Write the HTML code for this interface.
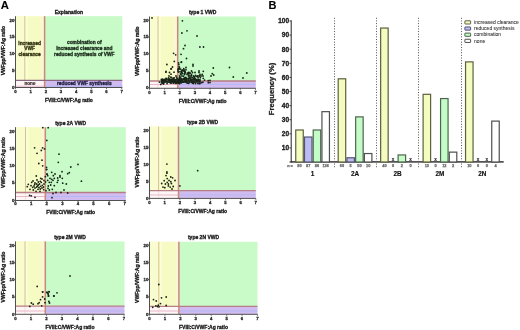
<!DOCTYPE html>
<html><head><meta charset="utf-8"><style>
html,body{margin:0;padding:0;background:#fff;}
svg{display:block;will-change:transform;font-family:"Liberation Sans", sans-serif;}
</style></head><body>
<svg width="520" height="330" viewBox="0 0 520 330">
<rect width="520" height="330" fill="#fff"/>
<text x="0.8" y="8.9" font-size="11.3" text-anchor="start" fill="#000" stroke="#000" stroke-width="0.1" font-weight="bold">A</text>
<rect x="16" y="16.2" width="28.6" height="64.1" fill="#f6fbc4"/>
<rect x="44.6" y="16.2" width="77.7" height="64.1" fill="#c8fbc8"/>
<rect x="16" y="80.3" width="28.6" height="7.2" fill="#fdf5f6"/>
<rect x="44.6" y="80.3" width="77.7" height="7.2" fill="#d0bcf0"/>
<rect x="25.3" y="16.2" width="2.5" height="64.1" fill="#fbfcd8"/>
<rect x="16" y="16.2" width="8.8" height="64.1" fill="#f8fcce"/>
<rect x="41.6" y="16.2" width="2.6" height="64.1" fill="#fcf4dc"/>
<line x1="24.8" y1="16.2" x2="24.8" y2="80.3" stroke="#d6c28e" stroke-width="1"/>
<line x1="24.8" y1="80.3" x2="24.8" y2="87.5" stroke="#d6c28e" stroke-width="1" opacity="0.35"/>
<line x1="16" y1="86.2" x2="44.6" y2="86.2" stroke="#eab0c8" stroke-width="1" opacity="0.9"/>
<line x1="44.6" y1="86.2" x2="122.3" y2="86.2" stroke="#b6b8f4" stroke-width="1.2"/>
<line x1="44.6" y1="16.2" x2="44.6" y2="87.5" stroke="#c98a74" stroke-width="1.5"/>
<line x1="16" y1="80.3" x2="122.3" y2="80.3" stroke="#8a6a80" stroke-width="1.3"/>
<line x1="15.5" y1="16.2" x2="15.5" y2="88" stroke="#505050" stroke-width="1"/>
<line x1="15" y1="87.5" x2="122.3" y2="87.5" stroke="#505050" stroke-width="1"/>
<line x1="15.5" y1="87.5" x2="15.5" y2="89" stroke="#505050" stroke-width="0.8"/>
<text x="15.5" y="92.9" font-size="4.3" text-anchor="middle" fill="#2a2a2a" stroke="#2a2a2a" stroke-width="0.3" font-weight="bold">0</text>
<line x1="30.67" y1="87.5" x2="30.67" y2="89" stroke="#505050" stroke-width="0.8"/>
<text x="30.67" y="92.9" font-size="4.3" text-anchor="middle" fill="#2a2a2a" stroke="#2a2a2a" stroke-width="0.3" font-weight="bold">1</text>
<line x1="45.84" y1="87.5" x2="45.84" y2="89" stroke="#505050" stroke-width="0.8"/>
<text x="45.84" y="92.9" font-size="4.3" text-anchor="middle" fill="#2a2a2a" stroke="#2a2a2a" stroke-width="0.3" font-weight="bold">2</text>
<line x1="61.01" y1="87.5" x2="61.01" y2="89" stroke="#505050" stroke-width="0.8"/>
<text x="61.01" y="92.9" font-size="4.3" text-anchor="middle" fill="#2a2a2a" stroke="#2a2a2a" stroke-width="0.3" font-weight="bold">3</text>
<line x1="76.19" y1="87.5" x2="76.19" y2="89" stroke="#505050" stroke-width="0.8"/>
<text x="76.19" y="92.9" font-size="4.3" text-anchor="middle" fill="#2a2a2a" stroke="#2a2a2a" stroke-width="0.3" font-weight="bold">4</text>
<line x1="91.36" y1="87.5" x2="91.36" y2="89" stroke="#505050" stroke-width="0.8"/>
<text x="91.36" y="92.9" font-size="4.3" text-anchor="middle" fill="#2a2a2a" stroke="#2a2a2a" stroke-width="0.3" font-weight="bold">5</text>
<line x1="106.53" y1="87.5" x2="106.53" y2="89" stroke="#505050" stroke-width="0.8"/>
<text x="106.53" y="92.9" font-size="4.3" text-anchor="middle" fill="#2a2a2a" stroke="#2a2a2a" stroke-width="0.3" font-weight="bold">6</text>
<line x1="121.7" y1="87.5" x2="121.7" y2="89" stroke="#505050" stroke-width="0.8"/>
<text x="121.7" y="92.9" font-size="4.3" text-anchor="middle" fill="#2a2a2a" stroke="#2a2a2a" stroke-width="0.3" font-weight="bold">7</text>
<line x1="14" y1="87" x2="15.5" y2="87" stroke="#505050" stroke-width="0.8"/>
<text x="14.4" y="88.5" font-size="4.3" text-anchor="end" fill="#2a2a2a" stroke="#2a2a2a" stroke-width="0.3" font-weight="bold">0</text>
<line x1="14" y1="70.25" x2="15.5" y2="70.25" stroke="#505050" stroke-width="0.8"/>
<text x="14.4" y="71.75" font-size="4.3" text-anchor="end" fill="#2a2a2a" stroke="#2a2a2a" stroke-width="0.3" font-weight="bold">5</text>
<line x1="14" y1="53.5" x2="15.5" y2="53.5" stroke="#505050" stroke-width="0.8"/>
<text x="14.4" y="55" font-size="4.3" text-anchor="end" fill="#2a2a2a" stroke="#2a2a2a" stroke-width="0.3" font-weight="bold">10</text>
<line x1="14" y1="36.75" x2="15.5" y2="36.75" stroke="#505050" stroke-width="0.8"/>
<text x="14.4" y="38.25" font-size="4.3" text-anchor="end" fill="#2a2a2a" stroke="#2a2a2a" stroke-width="0.3" font-weight="bold">15</text>
<line x1="14" y1="20" x2="15.5" y2="20" stroke="#505050" stroke-width="0.8"/>
<text x="14.4" y="21.5" font-size="4.3" text-anchor="end" fill="#2a2a2a" stroke="#2a2a2a" stroke-width="0.3" font-weight="bold">20</text>
<text x="68.9" y="14" font-size="5" text-anchor="middle" fill="#1a1a1a" stroke="#1a1a1a" stroke-width="0.3" font-weight="bold">Explanation</text>
<text x="68.9" y="101.6" font-size="4.9" text-anchor="middle" fill="#1a1a1a" stroke="#1a1a1a" stroke-width="0.3" font-weight="bold">FVIII:C/VWF:Ag ratio</text>
<text x="0" y="0" font-size="4.93" text-anchor="middle" fill="#1a1a1a" stroke="#1a1a1a" stroke-width="0.3" font-weight="bold" transform="translate(5.4,50.7) rotate(-90)">VWFpp/VWF:Ag ratio</text>
<rect x="150" y="16.5" width="27.7" height="64.5" fill="#f6fbc4"/>
<rect x="177.7" y="16.5" width="78.1" height="64.5" fill="#c8fbc8"/>
<rect x="150" y="81" width="27.7" height="7.3" fill="#fdf5f6"/>
<rect x="177.7" y="81" width="78.1" height="7.3" fill="#d0bcf0"/>
<rect x="158.5" y="16.5" width="2.5" height="64.5" fill="#fbfcd8"/>
<rect x="150" y="16.5" width="8" height="64.5" fill="#f8fcce"/>
<rect x="174.7" y="16.5" width="2.6" height="64.5" fill="#fcf4dc"/>
<line x1="158" y1="16.5" x2="158" y2="81" stroke="#d6c28e" stroke-width="1"/>
<line x1="158" y1="81" x2="158" y2="88.3" stroke="#d6c28e" stroke-width="1" opacity="0.35"/>
<line x1="150" y1="84.5" x2="177.7" y2="84.5" stroke="#eab0c8" stroke-width="1" opacity="0.9"/>
<line x1="177.7" y1="84.5" x2="255.8" y2="84.5" stroke="#b6b8f4" stroke-width="1.2"/>
<line x1="177.7" y1="16.5" x2="177.7" y2="88.3" stroke="#c98a74" stroke-width="1.5"/>
<line x1="150" y1="81" x2="255.8" y2="81" stroke="#b87c84" stroke-width="1.3"/>
<circle cx="152" cy="17.9" r="0.9" fill="#182418"/>
<circle cx="182.4" cy="20.8" r="0.9" fill="#182418"/>
<circle cx="187" cy="30.8" r="0.9" fill="#182418"/>
<circle cx="181.9" cy="33" r="0.9" fill="#182418"/>
<circle cx="197" cy="36" r="0.9" fill="#182418"/>
<circle cx="185" cy="45.5" r="0.9" fill="#182418"/>
<circle cx="183.5" cy="48.7" r="0.9" fill="#182418"/>
<circle cx="199.9" cy="47" r="0.9" fill="#182418"/>
<circle cx="203.5" cy="47" r="0.9" fill="#182418"/>
<circle cx="173.6" cy="53.3" r="0.9" fill="#182418"/>
<circle cx="175.7" cy="54.8" r="0.9" fill="#182418"/>
<circle cx="181" cy="54.3" r="0.9" fill="#182418"/>
<circle cx="174.3" cy="61.4" r="0.9" fill="#182418"/>
<circle cx="178.6" cy="62.8" r="0.9" fill="#182418"/>
<circle cx="181.2" cy="62.3" r="0.9" fill="#182418"/>
<circle cx="178.8" cy="64.5" r="0.9" fill="#182418"/>
<circle cx="166.9" cy="64.5" r="0.9" fill="#182418"/>
<circle cx="172.5" cy="67" r="0.9" fill="#182418"/>
<circle cx="171.3" cy="68.7" r="0.9" fill="#182418"/>
<circle cx="179.5" cy="67.3" r="0.9" fill="#182418"/>
<circle cx="178.4" cy="69" r="0.9" fill="#182418"/>
<circle cx="182.2" cy="70" r="0.9" fill="#182418"/>
<circle cx="166" cy="71.5" r="0.9" fill="#182418"/>
<circle cx="186.5" cy="58.5" r="0.9" fill="#182418"/>
<circle cx="181.5" cy="62" r="0.9" fill="#182418"/>
<circle cx="193" cy="64.5" r="0.9" fill="#182418"/>
<circle cx="193" cy="66" r="0.9" fill="#182418"/>
<circle cx="213.3" cy="68" r="0.9" fill="#182418"/>
<circle cx="186" cy="67.5" r="0.9" fill="#182418"/>
<circle cx="165.9" cy="72.2" r="0.9" fill="#182418"/>
<circle cx="169.5" cy="72.5" r="0.9" fill="#182418"/>
<circle cx="174" cy="72.2" r="0.9" fill="#182418"/>
<circle cx="171" cy="74.2" r="0.9" fill="#182418"/>
<circle cx="169" cy="76" r="0.9" fill="#182418"/>
<circle cx="166" cy="78.5" r="0.9" fill="#182418"/>
<circle cx="176" cy="76" r="0.9" fill="#182418"/>
<circle cx="178.5" cy="72" r="0.9" fill="#182418"/>
<circle cx="171" cy="69" r="0.9" fill="#182418"/>
<circle cx="182" cy="71" r="0.9" fill="#182418"/>
<circle cx="180.5" cy="74" r="0.9" fill="#182418"/>
<circle cx="183.5" cy="76.2" r="0.9" fill="#182418"/>
<circle cx="181.7" cy="78.6" r="0.9" fill="#182418"/>
<circle cx="203.3" cy="71.3" r="0.9" fill="#182418"/>
<circle cx="212.3" cy="73.7" r="0.9" fill="#182418"/>
<circle cx="213.7" cy="75" r="0.9" fill="#182418"/>
<circle cx="211" cy="76" r="0.9" fill="#182418"/>
<circle cx="203.3" cy="78.3" r="0.9" fill="#182418"/>
<circle cx="229.5" cy="67.5" r="0.9" fill="#182418"/>
<circle cx="233.3" cy="77" r="0.9" fill="#182418"/>
<circle cx="243" cy="78" r="0.9" fill="#182418"/>
<circle cx="246.8" cy="73" r="0.9" fill="#182418"/>
<circle cx="159.5" cy="82.2" r="0.9" fill="#182418"/>
<circle cx="160.8" cy="84.4" r="0.9" fill="#182418"/>
<circle cx="163.5" cy="84" r="0.9" fill="#182418"/>
<circle cx="181.6" cy="71" r="0.9" fill="#182418"/>
<circle cx="184" cy="71" r="0.9" fill="#182418"/>
<circle cx="191.5" cy="71" r="0.9" fill="#182418"/>
<circle cx="199" cy="71" r="0.9" fill="#182418"/>
<circle cx="188.5" cy="72.5" r="0.9" fill="#182418"/>
<circle cx="192.5" cy="72.5" r="0.9" fill="#182418"/>
<circle cx="195" cy="72.5" r="0.9" fill="#182418"/>
<circle cx="199" cy="72.5" r="0.9" fill="#182418"/>
<circle cx="181" cy="74.5" r="0.9" fill="#182418"/>
<circle cx="184.5" cy="74.5" r="0.9" fill="#182418"/>
<circle cx="191.5" cy="74.5" r="0.9" fill="#182418"/>
<circle cx="200" cy="74.5" r="0.9" fill="#182418"/>
<circle cx="202.2" cy="74.5" r="0.9" fill="#182418"/>
<circle cx="182" cy="76" r="0.9" fill="#182418"/>
<circle cx="188.5" cy="76" r="0.9" fill="#182418"/>
<circle cx="190" cy="76" r="0.9" fill="#182418"/>
<circle cx="193.5" cy="76" r="0.9" fill="#182418"/>
<circle cx="197.5" cy="76" r="0.9" fill="#182418"/>
<circle cx="199" cy="76" r="0.9" fill="#182418"/>
<circle cx="201" cy="76" r="0.9" fill="#182418"/>
<circle cx="203" cy="76" r="0.9" fill="#182418"/>
<circle cx="181" cy="78.5" r="0.9" fill="#182418"/>
<circle cx="185" cy="78.5" r="0.9" fill="#182418"/>
<circle cx="189" cy="78.5" r="0.9" fill="#182418"/>
<circle cx="195" cy="78.5" r="0.9" fill="#182418"/>
<circle cx="161.36" cy="79.32" r="0.9" fill="#182418"/>
<circle cx="161.62" cy="80.46" r="0.9" fill="#182418"/>
<circle cx="161.53" cy="81.89" r="0.9" fill="#182418"/>
<circle cx="162.61" cy="79.23" r="0.9" fill="#182418"/>
<circle cx="162.55" cy="80.46" r="0.9" fill="#182418"/>
<circle cx="162.27" cy="81.94" r="0.9" fill="#182418"/>
<circle cx="162.3" cy="82.98" r="0.9" fill="#182418"/>
<circle cx="163.8" cy="79.96" r="0.9" fill="#182418"/>
<circle cx="163.76" cy="80.72" r="0.9" fill="#182418"/>
<circle cx="164.08" cy="81.64" r="0.9" fill="#182418"/>
<circle cx="163.53" cy="82.92" r="0.9" fill="#182418"/>
<circle cx="164.49" cy="79.45" r="0.9" fill="#182418"/>
<circle cx="165.05" cy="80.54" r="0.9" fill="#182418"/>
<circle cx="164.87" cy="82.11" r="0.9" fill="#182418"/>
<circle cx="165.94" cy="79.25" r="0.9" fill="#182418"/>
<circle cx="165.55" cy="80.56" r="0.9" fill="#182418"/>
<circle cx="166.04" cy="81.94" r="0.9" fill="#182418"/>
<circle cx="167.07" cy="79.56" r="0.9" fill="#182418"/>
<circle cx="166.84" cy="81.04" r="0.9" fill="#182418"/>
<circle cx="167.16" cy="81.8" r="0.9" fill="#182418"/>
<circle cx="167.02" cy="83.5" r="0.9" fill="#182418"/>
<circle cx="168.28" cy="79.43" r="0.9" fill="#182418"/>
<circle cx="168.48" cy="80.49" r="0.9" fill="#182418"/>
<circle cx="168.03" cy="82.21" r="0.9" fill="#182418"/>
<circle cx="169.19" cy="79.23" r="0.9" fill="#182418"/>
<circle cx="169.33" cy="81.01" r="0.9" fill="#182418"/>
<circle cx="169.26" cy="82.3" r="0.9" fill="#182418"/>
<circle cx="170.46" cy="79.68" r="0.9" fill="#182418"/>
<circle cx="170.36" cy="80.76" r="0.9" fill="#182418"/>
<circle cx="170.57" cy="82.36" r="0.9" fill="#182418"/>
<circle cx="170.43" cy="82.85" r="0.9" fill="#182418"/>
<circle cx="171.56" cy="79.72" r="0.9" fill="#182418"/>
<circle cx="171.79" cy="81.06" r="0.9" fill="#182418"/>
<circle cx="171.23" cy="81.91" r="0.9" fill="#182418"/>
<circle cx="171.02" cy="83.17" r="0.9" fill="#182418"/>
<circle cx="172.23" cy="79.29" r="0.9" fill="#182418"/>
<circle cx="172.15" cy="81.01" r="0.9" fill="#182418"/>
<circle cx="172.2" cy="81.8" r="0.9" fill="#182418"/>
<circle cx="173.9" cy="79.26" r="0.9" fill="#182418"/>
<circle cx="173.56" cy="80.84" r="0.9" fill="#182418"/>
<circle cx="173.91" cy="82.26" r="0.9" fill="#182418"/>
<circle cx="173.42" cy="83.13" r="0.9" fill="#182418"/>
<circle cx="174.59" cy="79.91" r="0.9" fill="#182418"/>
<circle cx="175.07" cy="80.52" r="0.9" fill="#182418"/>
<circle cx="174.44" cy="81.79" r="0.9" fill="#182418"/>
<circle cx="175.79" cy="79.67" r="0.9" fill="#182418"/>
<circle cx="175.61" cy="80.4" r="0.9" fill="#182418"/>
<circle cx="175.74" cy="81.9" r="0.9" fill="#182418"/>
<circle cx="176.16" cy="83.35" r="0.9" fill="#182418"/>
<circle cx="176.91" cy="79.69" r="0.9" fill="#182418"/>
<circle cx="177.04" cy="80.44" r="0.9" fill="#182418"/>
<circle cx="177.22" cy="82.22" r="0.9" fill="#182418"/>
<circle cx="177.14" cy="83.11" r="0.9" fill="#182418"/>
<circle cx="177.92" cy="79.28" r="0.9" fill="#182418"/>
<circle cx="178.11" cy="80.45" r="0.9" fill="#182418"/>
<circle cx="177.65" cy="81.77" r="0.9" fill="#182418"/>
<circle cx="178.97" cy="79.24" r="0.9" fill="#182418"/>
<circle cx="178.7" cy="80.52" r="0.9" fill="#182418"/>
<circle cx="178.78" cy="81.89" r="0.9" fill="#182418"/>
<circle cx="180.5" cy="79.69" r="0.9" fill="#182418"/>
<circle cx="179.92" cy="80.6" r="0.9" fill="#182418"/>
<circle cx="180.08" cy="81.89" r="0.9" fill="#182418"/>
<circle cx="181.58" cy="79.99" r="0.9" fill="#182418"/>
<circle cx="181.27" cy="80.79" r="0.9" fill="#182418"/>
<circle cx="180.97" cy="81.68" r="0.9" fill="#182418"/>
<circle cx="182.21" cy="79.86" r="0.9" fill="#182418"/>
<circle cx="182.13" cy="80.42" r="0.9" fill="#182418"/>
<circle cx="182.76" cy="82.02" r="0.9" fill="#182418"/>
<circle cx="183.53" cy="79.22" r="0.9" fill="#182418"/>
<circle cx="183.52" cy="81.18" r="0.9" fill="#182418"/>
<circle cx="183.79" cy="82.16" r="0.9" fill="#182418"/>
<circle cx="184.49" cy="79.33" r="0.9" fill="#182418"/>
<circle cx="184.82" cy="80.83" r="0.9" fill="#182418"/>
<circle cx="184.82" cy="81.86" r="0.9" fill="#182418"/>
<circle cx="185.95" cy="79.99" r="0.9" fill="#182418"/>
<circle cx="185.98" cy="81.04" r="0.9" fill="#182418"/>
<circle cx="185.95" cy="82.19" r="0.9" fill="#182418"/>
<circle cx="186.81" cy="79.48" r="0.9" fill="#182418"/>
<circle cx="186.42" cy="80.42" r="0.9" fill="#182418"/>
<circle cx="186.62" cy="81.81" r="0.9" fill="#182418"/>
<circle cx="187.17" cy="83.16" r="0.9" fill="#182418"/>
<circle cx="188.25" cy="79.99" r="0.9" fill="#182418"/>
<circle cx="188.26" cy="80.69" r="0.9" fill="#182418"/>
<circle cx="187.68" cy="81.78" r="0.9" fill="#182418"/>
<circle cx="188.76" cy="79.7" r="0.9" fill="#182418"/>
<circle cx="189.32" cy="81.07" r="0.9" fill="#182418"/>
<circle cx="188.98" cy="82.12" r="0.9" fill="#182418"/>
<circle cx="188.67" cy="83.33" r="0.9" fill="#182418"/>
<circle cx="190.43" cy="79.83" r="0.9" fill="#182418"/>
<circle cx="190.3" cy="80.78" r="0.9" fill="#182418"/>
<circle cx="189.84" cy="82.23" r="0.9" fill="#182418"/>
<circle cx="191.44" cy="79.98" r="0.9" fill="#182418"/>
<circle cx="191.12" cy="80.72" r="0.9" fill="#182418"/>
<circle cx="191.56" cy="82.18" r="0.9" fill="#182418"/>
<circle cx="192" cy="79.32" r="0.9" fill="#182418"/>
<circle cx="192.62" cy="81.05" r="0.9" fill="#182418"/>
<circle cx="192.02" cy="82.26" r="0.9" fill="#182418"/>
<circle cx="192.43" cy="83.08" r="0.9" fill="#182418"/>
<circle cx="193.44" cy="79.3" r="0.9" fill="#182418"/>
<circle cx="193.01" cy="81.18" r="0.9" fill="#182418"/>
<circle cx="193.52" cy="82.02" r="0.9" fill="#182418"/>
<circle cx="193.35" cy="83.5" r="0.9" fill="#182418"/>
<circle cx="194.76" cy="79.37" r="0.9" fill="#182418"/>
<circle cx="194.3" cy="80.63" r="0.9" fill="#182418"/>
<circle cx="194.29" cy="82.07" r="0.9" fill="#182418"/>
<circle cx="195.54" cy="79.3" r="0.9" fill="#182418"/>
<circle cx="195.93" cy="80.68" r="0.9" fill="#182418"/>
<circle cx="195.57" cy="82.07" r="0.9" fill="#182418"/>
<circle cx="195.54" cy="83.53" r="0.9" fill="#182418"/>
<circle cx="196.7" cy="79.63" r="0.9" fill="#182418"/>
<circle cx="196.72" cy="80.41" r="0.9" fill="#182418"/>
<circle cx="196.65" cy="81.75" r="0.9" fill="#182418"/>
<circle cx="198.04" cy="79.34" r="0.9" fill="#182418"/>
<circle cx="197.78" cy="80.98" r="0.9" fill="#182418"/>
<circle cx="197.85" cy="81.86" r="0.9" fill="#182418"/>
<circle cx="197.84" cy="83.43" r="0.9" fill="#182418"/>
<circle cx="198.58" cy="79.65" r="0.9" fill="#182418"/>
<circle cx="198.7" cy="80.62" r="0.9" fill="#182418"/>
<circle cx="199.12" cy="82.01" r="0.9" fill="#182418"/>
<circle cx="199.11" cy="83.53" r="0.9" fill="#182418"/>
<circle cx="199.95" cy="79.69" r="0.9" fill="#182418"/>
<circle cx="200" cy="80.81" r="0.9" fill="#182418"/>
<circle cx="200.15" cy="81.96" r="0.9" fill="#182418"/>
<circle cx="199.98" cy="83.55" r="0.9" fill="#182418"/>
<circle cx="201.65" cy="82.64" r="0.9" fill="#182418"/>
<circle cx="202.9" cy="82.14" r="0.9" fill="#182418"/>
<circle cx="204.59" cy="80.07" r="0.9" fill="#182418"/>
<circle cx="208.17" cy="80.66" r="0.9" fill="#182418"/>
<circle cx="208.31" cy="82.67" r="0.9" fill="#182418"/>
<circle cx="209.96" cy="80.4" r="0.9" fill="#182418"/>
<circle cx="209.99" cy="82.53" r="0.9" fill="#182418"/>
<circle cx="173.17" cy="78.08" r="0.9" fill="#182418"/>
<circle cx="184.5" cy="77.85" r="0.9" fill="#182418"/>
<circle cx="174.26" cy="77.8" r="0.9" fill="#182418"/>
<circle cx="191.11" cy="77.05" r="0.9" fill="#182418"/>
<circle cx="185.73" cy="78.1" r="0.9" fill="#182418"/>
<circle cx="168.58" cy="77.83" r="0.9" fill="#182418"/>
<circle cx="187.97" cy="78.28" r="0.9" fill="#182418"/>
<circle cx="170.06" cy="79.46" r="0.9" fill="#182418"/>
<circle cx="193.23" cy="79.43" r="0.9" fill="#182418"/>
<circle cx="171.35" cy="77.66" r="0.9" fill="#182418"/>
<circle cx="169.27" cy="78.95" r="0.9" fill="#182418"/>
<circle cx="176.65" cy="77.32" r="0.9" fill="#182418"/>
<circle cx="181.51" cy="79.28" r="0.9" fill="#182418"/>
<circle cx="194.21" cy="77.65" r="0.9" fill="#182418"/>
<circle cx="172.78" cy="79.3" r="0.9" fill="#182418"/>
<circle cx="186.26" cy="78.75" r="0.9" fill="#182418"/>
<circle cx="170.86" cy="77.14" r="0.9" fill="#182418"/>
<circle cx="190.02" cy="78.06" r="0.9" fill="#182418"/>
<circle cx="179.67" cy="78.24" r="0.9" fill="#182418"/>
<circle cx="192.59" cy="77.72" r="0.9" fill="#182418"/>
<circle cx="179.93" cy="77.26" r="0.9" fill="#182418"/>
<circle cx="179.53" cy="77.31" r="0.9" fill="#182418"/>
<circle cx="188.44" cy="73.51" r="0.9" fill="#182418"/>
<circle cx="190.72" cy="78.47" r="0.9" fill="#182418"/>
<circle cx="184.16" cy="70.09" r="0.9" fill="#182418"/>
<circle cx="190.12" cy="73.25" r="0.9" fill="#182418"/>
<circle cx="180.52" cy="69.05" r="0.9" fill="#182418"/>
<circle cx="179.16" cy="69.04" r="0.9" fill="#182418"/>
<circle cx="185.18" cy="72.21" r="0.9" fill="#182418"/>
<circle cx="195.47" cy="75.35" r="0.9" fill="#182418"/>
<circle cx="189.5" cy="72.57" r="0.9" fill="#182418"/>
<circle cx="185.98" cy="69.76" r="0.9" fill="#182418"/>
<circle cx="183.76" cy="68.75" r="0.9" fill="#182418"/>
<circle cx="194.86" cy="76.57" r="0.9" fill="#182418"/>
<circle cx="182.36" cy="73.2" r="0.9" fill="#182418"/>
<circle cx="199.5" cy="76.03" r="0.9" fill="#182418"/>
<circle cx="196.84" cy="76.43" r="0.9" fill="#182418"/>
<circle cx="189.39" cy="77.7" r="0.9" fill="#182418"/>
<circle cx="187.04" cy="74.59" r="0.9" fill="#182418"/>
<circle cx="193.82" cy="78.9" r="0.9" fill="#182418"/>
<circle cx="185.88" cy="77.41" r="0.9" fill="#182418"/>
<circle cx="194.25" cy="76.93" r="0.9" fill="#182418"/>
<circle cx="187.31" cy="73.25" r="0.9" fill="#182418"/>
<circle cx="179.25" cy="68.18" r="0.9" fill="#182418"/>
<circle cx="179.63" cy="75.82" r="0.9" fill="#182418"/>
<circle cx="183.88" cy="70.34" r="0.9" fill="#182418"/>
<circle cx="179.94" cy="77.08" r="0.9" fill="#182418"/>
<circle cx="198.02" cy="77.69" r="0.9" fill="#182418"/>
<circle cx="184.48" cy="71.36" r="0.9" fill="#182418"/>
<circle cx="184.74" cy="73.61" r="0.9" fill="#182418"/>
<circle cx="181.62" cy="72.7" r="0.9" fill="#182418"/>
<circle cx="184.05" cy="78.61" r="0.9" fill="#182418"/>
<circle cx="200.37" cy="77.67" r="0.9" fill="#182418"/>
<circle cx="183.62" cy="78.64" r="0.9" fill="#182418"/>
<circle cx="185.12" cy="72.7" r="0.9" fill="#182418"/>
<circle cx="178.02" cy="70.97" r="0.9" fill="#182418"/>
<circle cx="188.92" cy="74.98" r="0.9" fill="#182418"/>
<circle cx="182.62" cy="73.59" r="0.9" fill="#182418"/>
<circle cx="178.11" cy="69.47" r="0.9" fill="#182418"/>
<circle cx="180.06" cy="71.75" r="0.9" fill="#182418"/>
<circle cx="178.96" cy="66.71" r="0.9" fill="#182418"/>
<circle cx="185" cy="71.44" r="0.9" fill="#182418"/>
<circle cx="191.47" cy="75.73" r="0.9" fill="#182418"/>
<circle cx="179.76" cy="81.98" r="0.9" fill="#182418"/>
<circle cx="178.9" cy="83.16" r="0.9" fill="#182418"/>
<circle cx="170.74" cy="80.23" r="0.9" fill="#182418"/>
<circle cx="185.62" cy="79.29" r="0.9" fill="#182418"/>
<circle cx="179.1" cy="81.91" r="0.9" fill="#182418"/>
<circle cx="162.09" cy="82.93" r="0.9" fill="#182418"/>
<circle cx="183.3" cy="81.82" r="0.9" fill="#182418"/>
<circle cx="179.35" cy="82.8" r="0.9" fill="#182418"/>
<circle cx="164.48" cy="81.28" r="0.9" fill="#182418"/>
<circle cx="173.61" cy="82.93" r="0.9" fill="#182418"/>
<circle cx="181.12" cy="82.88" r="0.9" fill="#182418"/>
<circle cx="175.6" cy="83.23" r="0.9" fill="#182418"/>
<circle cx="178.07" cy="82.17" r="0.9" fill="#182418"/>
<circle cx="166.75" cy="78.67" r="0.9" fill="#182418"/>
<circle cx="164.33" cy="80.41" r="0.9" fill="#182418"/>
<circle cx="163.62" cy="82.93" r="0.9" fill="#182418"/>
<circle cx="174.96" cy="81.83" r="0.9" fill="#182418"/>
<circle cx="176.66" cy="82.11" r="0.9" fill="#182418"/>
<circle cx="173.23" cy="78.52" r="0.9" fill="#182418"/>
<circle cx="180.94" cy="82.47" r="0.9" fill="#182418"/>
<circle cx="173.57" cy="81.34" r="0.9" fill="#182418"/>
<circle cx="177.48" cy="78.85" r="0.9" fill="#182418"/>
<circle cx="179.42" cy="79.84" r="0.9" fill="#182418"/>
<circle cx="162.86" cy="79.91" r="0.9" fill="#182418"/>
<circle cx="179.23" cy="79.59" r="0.9" fill="#182418"/>
<circle cx="179.5" cy="83.67" r="0.9" fill="#182418"/>
<circle cx="173.35" cy="80.53" r="0.9" fill="#182418"/>
<circle cx="172.98" cy="82.12" r="0.9" fill="#182418"/>
<circle cx="180.17" cy="81.77" r="0.9" fill="#182418"/>
<circle cx="177.07" cy="78.91" r="0.9" fill="#182418"/>
<line x1="149.5" y1="16.5" x2="149.5" y2="88.8" stroke="#505050" stroke-width="1"/>
<line x1="149" y1="88.3" x2="255.8" y2="88.3" stroke="#505050" stroke-width="1"/>
<line x1="149.5" y1="88.3" x2="149.5" y2="89.8" stroke="#505050" stroke-width="0.8"/>
<text x="149.5" y="93.7" font-size="4.3" text-anchor="middle" fill="#2a2a2a" stroke="#2a2a2a" stroke-width="0.3" font-weight="bold">0</text>
<line x1="164.64" y1="88.3" x2="164.64" y2="89.8" stroke="#505050" stroke-width="0.8"/>
<text x="164.64" y="93.7" font-size="4.3" text-anchor="middle" fill="#2a2a2a" stroke="#2a2a2a" stroke-width="0.3" font-weight="bold">1</text>
<line x1="179.79" y1="88.3" x2="179.79" y2="89.8" stroke="#505050" stroke-width="0.8"/>
<text x="179.79" y="93.7" font-size="4.3" text-anchor="middle" fill="#2a2a2a" stroke="#2a2a2a" stroke-width="0.3" font-weight="bold">2</text>
<line x1="194.93" y1="88.3" x2="194.93" y2="89.8" stroke="#505050" stroke-width="0.8"/>
<text x="194.93" y="93.7" font-size="4.3" text-anchor="middle" fill="#2a2a2a" stroke="#2a2a2a" stroke-width="0.3" font-weight="bold">3</text>
<line x1="210.07" y1="88.3" x2="210.07" y2="89.8" stroke="#505050" stroke-width="0.8"/>
<text x="210.07" y="93.7" font-size="4.3" text-anchor="middle" fill="#2a2a2a" stroke="#2a2a2a" stroke-width="0.3" font-weight="bold">4</text>
<line x1="225.21" y1="88.3" x2="225.21" y2="89.8" stroke="#505050" stroke-width="0.8"/>
<text x="225.21" y="93.7" font-size="4.3" text-anchor="middle" fill="#2a2a2a" stroke="#2a2a2a" stroke-width="0.3" font-weight="bold">5</text>
<line x1="240.36" y1="88.3" x2="240.36" y2="89.8" stroke="#505050" stroke-width="0.8"/>
<text x="240.36" y="93.7" font-size="4.3" text-anchor="middle" fill="#2a2a2a" stroke="#2a2a2a" stroke-width="0.3" font-weight="bold">6</text>
<line x1="255.5" y1="88.3" x2="255.5" y2="89.8" stroke="#505050" stroke-width="0.8"/>
<text x="255.5" y="93.7" font-size="4.3" text-anchor="middle" fill="#2a2a2a" stroke="#2a2a2a" stroke-width="0.3" font-weight="bold">7</text>
<line x1="148" y1="87.8" x2="149.5" y2="87.8" stroke="#505050" stroke-width="0.8"/>
<text x="148.4" y="89.3" font-size="4.3" text-anchor="end" fill="#2a2a2a" stroke="#2a2a2a" stroke-width="0.3" font-weight="bold">0</text>
<line x1="148" y1="70.85" x2="149.5" y2="70.85" stroke="#505050" stroke-width="0.8"/>
<text x="148.4" y="72.35" font-size="4.3" text-anchor="end" fill="#2a2a2a" stroke="#2a2a2a" stroke-width="0.3" font-weight="bold">5</text>
<line x1="148" y1="53.9" x2="149.5" y2="53.9" stroke="#505050" stroke-width="0.8"/>
<text x="148.4" y="55.4" font-size="4.3" text-anchor="end" fill="#2a2a2a" stroke="#2a2a2a" stroke-width="0.3" font-weight="bold">10</text>
<line x1="148" y1="36.95" x2="149.5" y2="36.95" stroke="#505050" stroke-width="0.8"/>
<text x="148.4" y="38.45" font-size="4.3" text-anchor="end" fill="#2a2a2a" stroke="#2a2a2a" stroke-width="0.3" font-weight="bold">15</text>
<line x1="148" y1="20" x2="149.5" y2="20" stroke="#505050" stroke-width="0.8"/>
<text x="148.4" y="21.5" font-size="4.3" text-anchor="end" fill="#2a2a2a" stroke="#2a2a2a" stroke-width="0.3" font-weight="bold">20</text>
<text x="202.65" y="14" font-size="5" text-anchor="middle" fill="#1a1a1a" stroke="#1a1a1a" stroke-width="0.3" font-weight="bold">type 1 VWD</text>
<text x="202.65" y="102.5" font-size="4.9" text-anchor="middle" fill="#1a1a1a" stroke="#1a1a1a" stroke-width="0.3" font-weight="bold">FVIII:C/VWF:Ag ratio</text>
<text x="0" y="0" font-size="4.95" text-anchor="middle" fill="#1a1a1a" stroke="#1a1a1a" stroke-width="0.3" font-weight="bold" transform="translate(139.4,51.2) rotate(-90)">VWFpp/VWF:Ag ratio</text>
<rect x="16" y="127.2" width="29.3" height="65.3" fill="#f6fbc4"/>
<rect x="45.3" y="127.2" width="80.5" height="65.3" fill="#c8fbc8"/>
<rect x="16" y="192.5" width="29.3" height="8" fill="#fdf5f6"/>
<rect x="45.3" y="192.5" width="80.5" height="8" fill="#d0bcf0"/>
<rect x="26" y="127.2" width="2.5" height="65.3" fill="#fbfcd8"/>
<rect x="16" y="127.2" width="9.5" height="65.3" fill="#f8fcce"/>
<rect x="42.3" y="127.2" width="2.6" height="65.3" fill="#fcf4dc"/>
<line x1="25.5" y1="127.2" x2="25.5" y2="192.5" stroke="#d6c28e" stroke-width="1"/>
<line x1="25.5" y1="192.5" x2="25.5" y2="200.5" stroke="#d6c28e" stroke-width="1" opacity="0.35"/>
<line x1="16" y1="196.5" x2="45.3" y2="196.5" stroke="#eab0c8" stroke-width="1" opacity="0.9"/>
<line x1="45.3" y1="196.5" x2="125.8" y2="196.5" stroke="#b6b8f4" stroke-width="1.2"/>
<line x1="45.3" y1="127.2" x2="45.3" y2="200.5" stroke="#c98a74" stroke-width="1.5"/>
<line x1="16" y1="192.5" x2="125.8" y2="192.5" stroke="#b87c84" stroke-width="1.3"/>
<circle cx="42.8" cy="127.7" r="0.9" fill="#182418"/>
<circle cx="48.2" cy="127.7" r="0.9" fill="#182418"/>
<circle cx="46.8" cy="140.4" r="0.9" fill="#182418"/>
<circle cx="34.6" cy="147.8" r="0.9" fill="#182418"/>
<circle cx="42.6" cy="147.8" r="0.9" fill="#182418"/>
<circle cx="44.5" cy="148.9" r="0.9" fill="#182418"/>
<circle cx="41.3" cy="150.4" r="0.9" fill="#182418"/>
<circle cx="37" cy="153.3" r="0.9" fill="#182418"/>
<circle cx="59" cy="154.2" r="0.9" fill="#182418"/>
<circle cx="42" cy="160.2" r="0.9" fill="#182418"/>
<circle cx="58.3" cy="162.3" r="0.9" fill="#182418"/>
<circle cx="38.8" cy="163.5" r="0.9" fill="#182418"/>
<circle cx="78" cy="164.4" r="0.9" fill="#182418"/>
<circle cx="42.7" cy="165.8" r="0.9" fill="#182418"/>
<circle cx="46.5" cy="167.3" r="0.9" fill="#182418"/>
<circle cx="46.5" cy="169.6" r="0.9" fill="#182418"/>
<circle cx="70.8" cy="167" r="0.9" fill="#182418"/>
<circle cx="46.7" cy="169.3" r="0.9" fill="#182418"/>
<circle cx="51.7" cy="172.3" r="0.9" fill="#182418"/>
<circle cx="55" cy="174" r="0.9" fill="#182418"/>
<circle cx="62" cy="171.7" r="0.9" fill="#182418"/>
<circle cx="67.7" cy="173.7" r="0.9" fill="#182418"/>
<circle cx="69.3" cy="172.7" r="0.9" fill="#182418"/>
<circle cx="47" cy="174" r="0.9" fill="#182418"/>
<circle cx="47.7" cy="175.7" r="0.9" fill="#182418"/>
<circle cx="53.3" cy="175.7" r="0.9" fill="#182418"/>
<circle cx="60" cy="175.7" r="0.9" fill="#182418"/>
<circle cx="60" cy="177" r="0.9" fill="#182418"/>
<circle cx="57.7" cy="178" r="0.9" fill="#182418"/>
<circle cx="62.3" cy="178.3" r="0.9" fill="#182418"/>
<circle cx="54.3" cy="178.3" r="0.9" fill="#182418"/>
<circle cx="50" cy="178.3" r="0.9" fill="#182418"/>
<circle cx="51.7" cy="179.3" r="0.9" fill="#182418"/>
<circle cx="53" cy="180.3" r="0.9" fill="#182418"/>
<circle cx="47.7" cy="180.3" r="0.9" fill="#182418"/>
<circle cx="58" cy="180.3" r="0.9" fill="#182418"/>
<circle cx="57.3" cy="182.3" r="0.9" fill="#182418"/>
<circle cx="62.7" cy="183.2" r="0.9" fill="#182418"/>
<circle cx="66.3" cy="184" r="0.9" fill="#182418"/>
<circle cx="49.3" cy="182.3" r="0.9" fill="#182418"/>
<circle cx="51.3" cy="182.3" r="0.9" fill="#182418"/>
<circle cx="50.7" cy="185" r="0.9" fill="#182418"/>
<circle cx="54.3" cy="185.7" r="0.9" fill="#182418"/>
<circle cx="48" cy="188.3" r="0.9" fill="#182418"/>
<circle cx="52.3" cy="189.3" r="0.9" fill="#182418"/>
<circle cx="36.3" cy="176" r="0.9" fill="#182418"/>
<circle cx="40.7" cy="178.3" r="0.9" fill="#182418"/>
<circle cx="42" cy="179" r="0.9" fill="#182418"/>
<circle cx="47" cy="174.3" r="0.9" fill="#182418"/>
<circle cx="45.3" cy="176.7" r="0.9" fill="#182418"/>
<circle cx="31.7" cy="182.3" r="0.9" fill="#182418"/>
<circle cx="35" cy="183" r="0.9" fill="#182418"/>
<circle cx="38.3" cy="182" r="0.9" fill="#182418"/>
<circle cx="40.3" cy="181.3" r="0.9" fill="#182418"/>
<circle cx="41.3" cy="182.3" r="0.9" fill="#182418"/>
<circle cx="28.3" cy="184.3" r="0.9" fill="#182418"/>
<circle cx="31" cy="185.7" r="0.9" fill="#182418"/>
<circle cx="34.7" cy="184.3" r="0.9" fill="#182418"/>
<circle cx="36.7" cy="184" r="0.9" fill="#182418"/>
<circle cx="38.3" cy="185" r="0.9" fill="#182418"/>
<circle cx="40.7" cy="186.3" r="0.9" fill="#182418"/>
<circle cx="42.3" cy="185.3" r="0.9" fill="#182418"/>
<circle cx="27.3" cy="186.7" r="0.9" fill="#182418"/>
<circle cx="32.7" cy="187.3" r="0.9" fill="#182418"/>
<circle cx="35" cy="188" r="0.9" fill="#182418"/>
<circle cx="36.7" cy="187" r="0.9" fill="#182418"/>
<circle cx="38" cy="189.3" r="0.9" fill="#182418"/>
<circle cx="40.3" cy="189" r="0.9" fill="#182418"/>
<circle cx="42" cy="188" r="0.9" fill="#182418"/>
<circle cx="30" cy="189.3" r="0.9" fill="#182418"/>
<circle cx="33.3" cy="190" r="0.9" fill="#182418"/>
<circle cx="43.7" cy="189.7" r="0.9" fill="#182418"/>
<circle cx="46" cy="190.7" r="0.9" fill="#182418"/>
<circle cx="48.3" cy="186" r="0.9" fill="#182418"/>
<circle cx="49.3" cy="190" r="0.9" fill="#182418"/>
<circle cx="36" cy="191.3" r="0.9" fill="#182418"/>
<circle cx="40" cy="191.3" r="0.9" fill="#182418"/>
<circle cx="37.5" cy="186" r="0.9" fill="#182418"/>
<circle cx="39.5" cy="184" r="0.9" fill="#182418"/>
<circle cx="34" cy="186" r="0.9" fill="#182418"/>
<circle cx="44" cy="184" r="0.9" fill="#182418"/>
<circle cx="45.5" cy="182" r="0.9" fill="#182418"/>
<circle cx="43.5" cy="187" r="0.9" fill="#182418"/>
<circle cx="39" cy="187.5" r="0.9" fill="#182418"/>
<circle cx="37" cy="180" r="0.9" fill="#182418"/>
<circle cx="33" cy="181" r="0.9" fill="#182418"/>
<circle cx="44" cy="180.5" r="0.9" fill="#182418"/>
<circle cx="81.4" cy="181.2" r="0.9" fill="#182418"/>
<circle cx="64" cy="190" r="0.9" fill="#182418"/>
<circle cx="61" cy="192.5" r="0.9" fill="#182418"/>
<circle cx="67.7" cy="193" r="0.9" fill="#182418"/>
<circle cx="56" cy="192.5" r="0.9" fill="#182418"/>
<circle cx="29.6" cy="195.4" r="0.9" fill="#182418"/>
<circle cx="31.2" cy="195.8" r="0.9" fill="#182418"/>
<circle cx="35" cy="197.3" r="0.9" fill="#182418"/>
<circle cx="53" cy="193.5" r="0.9" fill="#182418"/>
<circle cx="52" cy="197.7" r="0.9" fill="#182418"/>
<line x1="15.5" y1="127.2" x2="15.5" y2="201" stroke="#505050" stroke-width="1"/>
<line x1="15" y1="200.5" x2="125.8" y2="200.5" stroke="#505050" stroke-width="1"/>
<line x1="15.5" y1="200.5" x2="15.5" y2="202" stroke="#505050" stroke-width="0.8"/>
<text x="15.5" y="205.3" font-size="4.3" text-anchor="middle" fill="#2a2a2a" stroke="#2a2a2a" stroke-width="0.3" font-weight="bold">0</text>
<line x1="31.11" y1="200.5" x2="31.11" y2="202" stroke="#505050" stroke-width="0.8"/>
<text x="31.11" y="205.3" font-size="4.3" text-anchor="middle" fill="#2a2a2a" stroke="#2a2a2a" stroke-width="0.3" font-weight="bold">1</text>
<line x1="46.73" y1="200.5" x2="46.73" y2="202" stroke="#505050" stroke-width="0.8"/>
<text x="46.73" y="205.3" font-size="4.3" text-anchor="middle" fill="#2a2a2a" stroke="#2a2a2a" stroke-width="0.3" font-weight="bold">2</text>
<line x1="62.34" y1="200.5" x2="62.34" y2="202" stroke="#505050" stroke-width="0.8"/>
<text x="62.34" y="205.3" font-size="4.3" text-anchor="middle" fill="#2a2a2a" stroke="#2a2a2a" stroke-width="0.3" font-weight="bold">3</text>
<line x1="77.96" y1="200.5" x2="77.96" y2="202" stroke="#505050" stroke-width="0.8"/>
<text x="77.96" y="205.3" font-size="4.3" text-anchor="middle" fill="#2a2a2a" stroke="#2a2a2a" stroke-width="0.3" font-weight="bold">4</text>
<line x1="93.57" y1="200.5" x2="93.57" y2="202" stroke="#505050" stroke-width="0.8"/>
<text x="93.57" y="205.3" font-size="4.3" text-anchor="middle" fill="#2a2a2a" stroke="#2a2a2a" stroke-width="0.3" font-weight="bold">5</text>
<line x1="109.19" y1="200.5" x2="109.19" y2="202" stroke="#505050" stroke-width="0.8"/>
<text x="109.19" y="205.3" font-size="4.3" text-anchor="middle" fill="#2a2a2a" stroke="#2a2a2a" stroke-width="0.3" font-weight="bold">6</text>
<line x1="124.8" y1="200.5" x2="124.8" y2="202" stroke="#505050" stroke-width="0.8"/>
<text x="124.8" y="205.3" font-size="4.3" text-anchor="middle" fill="#2a2a2a" stroke="#2a2a2a" stroke-width="0.3" font-weight="bold">7</text>
<line x1="14" y1="200.3" x2="15.5" y2="200.3" stroke="#505050" stroke-width="0.8"/>
<text x="14.4" y="201.8" font-size="4.3" text-anchor="end" fill="#2a2a2a" stroke="#2a2a2a" stroke-width="0.3" font-weight="bold">0</text>
<line x1="14" y1="182.98" x2="15.5" y2="182.98" stroke="#505050" stroke-width="0.8"/>
<text x="14.4" y="184.48" font-size="4.3" text-anchor="end" fill="#2a2a2a" stroke="#2a2a2a" stroke-width="0.3" font-weight="bold">5</text>
<line x1="14" y1="165.65" x2="15.5" y2="165.65" stroke="#505050" stroke-width="0.8"/>
<text x="14.4" y="167.15" font-size="4.3" text-anchor="end" fill="#2a2a2a" stroke="#2a2a2a" stroke-width="0.3" font-weight="bold">10</text>
<line x1="14" y1="148.32" x2="15.5" y2="148.32" stroke="#505050" stroke-width="0.8"/>
<text x="14.4" y="149.82" font-size="4.3" text-anchor="end" fill="#2a2a2a" stroke="#2a2a2a" stroke-width="0.3" font-weight="bold">15</text>
<line x1="14" y1="131" x2="15.5" y2="131" stroke="#505050" stroke-width="0.8"/>
<text x="14.4" y="132.5" font-size="4.3" text-anchor="end" fill="#2a2a2a" stroke="#2a2a2a" stroke-width="0.3" font-weight="bold">20</text>
<text x="70.65" y="124.5" font-size="5" text-anchor="middle" fill="#1a1a1a" stroke="#1a1a1a" stroke-width="0.3" font-weight="bold">type 2A VWD</text>
<text x="70.65" y="214.1" font-size="5.0" text-anchor="middle" fill="#1a1a1a" stroke="#1a1a1a" stroke-width="0.3" font-weight="bold">FVIII:C/VWF:Ag ratio</text>
<text x="0" y="0" font-size="5.05" text-anchor="middle" fill="#1a1a1a" stroke="#1a1a1a" stroke-width="0.3" font-weight="bold" transform="translate(5.4,162.5) rotate(-90)">VWFpp/VWF:Ag ratio</text>
<rect x="150" y="126.6" width="28.5" height="64" fill="#f6fbc4"/>
<rect x="178.5" y="126.6" width="77.3" height="64" fill="#c8fbc8"/>
<rect x="150" y="190.6" width="28.5" height="7.8" fill="#fdf5f6"/>
<rect x="178.5" y="190.6" width="77.3" height="7.8" fill="#d0bcf0"/>
<rect x="159.1" y="126.6" width="2.5" height="64" fill="#fbfcd8"/>
<rect x="150" y="126.6" width="8.6" height="64" fill="#f8fcce"/>
<rect x="175.5" y="126.6" width="2.6" height="64" fill="#fcf4dc"/>
<line x1="158.6" y1="126.6" x2="158.6" y2="190.6" stroke="#d6c28e" stroke-width="1"/>
<line x1="158.6" y1="190.6" x2="158.6" y2="198.4" stroke="#d6c28e" stroke-width="1" opacity="0.35"/>
<line x1="150" y1="195" x2="178.5" y2="195" stroke="#eab0c8" stroke-width="1" opacity="0.9"/>
<line x1="178.5" y1="195" x2="255.8" y2="195" stroke="#b6b8f4" stroke-width="1.2"/>
<line x1="178.5" y1="126.6" x2="178.5" y2="198.4" stroke="#c98a74" stroke-width="1.5"/>
<line x1="150" y1="190.6" x2="255.8" y2="190.6" stroke="#b87c84" stroke-width="1.3"/>
<circle cx="166.9" cy="164.1" r="0.9" fill="#182418"/>
<circle cx="166.9" cy="172" r="0.9" fill="#182418"/>
<circle cx="166.9" cy="173.2" r="0.9" fill="#182418"/>
<circle cx="166" cy="175.6" r="0.9" fill="#182418"/>
<circle cx="170.8" cy="177" r="0.9" fill="#182418"/>
<circle cx="172.6" cy="177.8" r="0.9" fill="#182418"/>
<circle cx="167.2" cy="178.6" r="0.9" fill="#182418"/>
<circle cx="175" cy="180.5" r="0.9" fill="#182418"/>
<circle cx="164.2" cy="180.7" r="0.9" fill="#182418"/>
<circle cx="169" cy="180.5" r="0.9" fill="#182418"/>
<circle cx="170.8" cy="181.7" r="0.9" fill="#182418"/>
<circle cx="167.2" cy="182.3" r="0.9" fill="#182418"/>
<circle cx="161.7" cy="183.5" r="0.9" fill="#182418"/>
<circle cx="165.4" cy="184" r="0.9" fill="#182418"/>
<circle cx="168.4" cy="184" r="0.9" fill="#182418"/>
<circle cx="171.4" cy="183.5" r="0.9" fill="#182418"/>
<circle cx="173.2" cy="186.5" r="0.9" fill="#182418"/>
<circle cx="163" cy="187.1" r="0.9" fill="#182418"/>
<circle cx="164.8" cy="187.7" r="0.9" fill="#182418"/>
<circle cx="170.2" cy="187.1" r="0.9" fill="#182418"/>
<circle cx="172" cy="189" r="0.9" fill="#182418"/>
<circle cx="179.9" cy="185.9" r="0.9" fill="#182418"/>
<circle cx="168.4" cy="185.9" r="0.9" fill="#182418"/>
<circle cx="197.7" cy="170.7" r="0.9" fill="#182418"/>
<line x1="149.5" y1="126.6" x2="149.5" y2="198.9" stroke="#505050" stroke-width="1"/>
<line x1="149" y1="198.4" x2="255.8" y2="198.4" stroke="#505050" stroke-width="1"/>
<line x1="149.5" y1="198.4" x2="149.5" y2="199.9" stroke="#505050" stroke-width="0.8"/>
<text x="149.5" y="203.8" font-size="4.3" text-anchor="middle" fill="#2a2a2a" stroke="#2a2a2a" stroke-width="0.3" font-weight="bold">0</text>
<line x1="164.69" y1="198.4" x2="164.69" y2="199.9" stroke="#505050" stroke-width="0.8"/>
<text x="164.69" y="203.8" font-size="4.3" text-anchor="middle" fill="#2a2a2a" stroke="#2a2a2a" stroke-width="0.3" font-weight="bold">1</text>
<line x1="179.87" y1="198.4" x2="179.87" y2="199.9" stroke="#505050" stroke-width="0.8"/>
<text x="179.87" y="203.8" font-size="4.3" text-anchor="middle" fill="#2a2a2a" stroke="#2a2a2a" stroke-width="0.3" font-weight="bold">2</text>
<line x1="195.06" y1="198.4" x2="195.06" y2="199.9" stroke="#505050" stroke-width="0.8"/>
<text x="195.06" y="203.8" font-size="4.3" text-anchor="middle" fill="#2a2a2a" stroke="#2a2a2a" stroke-width="0.3" font-weight="bold">3</text>
<line x1="210.24" y1="198.4" x2="210.24" y2="199.9" stroke="#505050" stroke-width="0.8"/>
<text x="210.24" y="203.8" font-size="4.3" text-anchor="middle" fill="#2a2a2a" stroke="#2a2a2a" stroke-width="0.3" font-weight="bold">4</text>
<line x1="225.43" y1="198.4" x2="225.43" y2="199.9" stroke="#505050" stroke-width="0.8"/>
<text x="225.43" y="203.8" font-size="4.3" text-anchor="middle" fill="#2a2a2a" stroke="#2a2a2a" stroke-width="0.3" font-weight="bold">5</text>
<line x1="240.61" y1="198.4" x2="240.61" y2="199.9" stroke="#505050" stroke-width="0.8"/>
<text x="240.61" y="203.8" font-size="4.3" text-anchor="middle" fill="#2a2a2a" stroke="#2a2a2a" stroke-width="0.3" font-weight="bold">6</text>
<line x1="255.8" y1="198.4" x2="255.8" y2="199.9" stroke="#505050" stroke-width="0.8"/>
<text x="255.8" y="203.8" font-size="4.3" text-anchor="middle" fill="#2a2a2a" stroke="#2a2a2a" stroke-width="0.3" font-weight="bold">7</text>
<line x1="148" y1="198.1" x2="149.5" y2="198.1" stroke="#505050" stroke-width="0.8"/>
<text x="148.4" y="199.6" font-size="4.3" text-anchor="end" fill="#2a2a2a" stroke="#2a2a2a" stroke-width="0.3" font-weight="bold">0</text>
<line x1="148" y1="181.12" x2="149.5" y2="181.12" stroke="#505050" stroke-width="0.8"/>
<text x="148.4" y="182.62" font-size="4.3" text-anchor="end" fill="#2a2a2a" stroke="#2a2a2a" stroke-width="0.3" font-weight="bold">5</text>
<line x1="148" y1="164.15" x2="149.5" y2="164.15" stroke="#505050" stroke-width="0.8"/>
<text x="148.4" y="165.65" font-size="4.3" text-anchor="end" fill="#2a2a2a" stroke="#2a2a2a" stroke-width="0.3" font-weight="bold">10</text>
<line x1="148" y1="147.17" x2="149.5" y2="147.17" stroke="#505050" stroke-width="0.8"/>
<text x="148.4" y="148.67" font-size="4.3" text-anchor="end" fill="#2a2a2a" stroke="#2a2a2a" stroke-width="0.3" font-weight="bold">15</text>
<line x1="148" y1="130.2" x2="149.5" y2="130.2" stroke="#505050" stroke-width="0.8"/>
<text x="148.4" y="131.7" font-size="4.3" text-anchor="end" fill="#2a2a2a" stroke="#2a2a2a" stroke-width="0.3" font-weight="bold">20</text>
<text x="202.65" y="124.2" font-size="5" text-anchor="middle" fill="#1a1a1a" stroke="#1a1a1a" stroke-width="0.3" font-weight="bold">type 2B VWD</text>
<text x="202.65" y="213.1" font-size="5.0" text-anchor="middle" fill="#1a1a1a" stroke="#1a1a1a" stroke-width="0.3" font-weight="bold">FVIII:C/VWF:Ag ratio</text>
<text x="0" y="0" font-size="5.05" text-anchor="middle" fill="#1a1a1a" stroke="#1a1a1a" stroke-width="0.3" font-weight="bold" transform="translate(139.4,162) rotate(-90)">VWFpp/VWF:Ag ratio</text>
<rect x="16" y="241.4" width="29.3" height="64.8" fill="#f6fbc4"/>
<rect x="45.3" y="241.4" width="79.2" height="64.8" fill="#c8fbc8"/>
<rect x="16" y="306.2" width="29.3" height="8.1" fill="#fdf5f6"/>
<rect x="45.3" y="306.2" width="79.2" height="8.1" fill="#d0bcf0"/>
<rect x="25.5" y="241.4" width="2.5" height="64.8" fill="#fbfcd8"/>
<rect x="16" y="241.4" width="9" height="64.8" fill="#f8fcce"/>
<rect x="42.3" y="241.4" width="2.6" height="64.8" fill="#fcf4dc"/>
<line x1="25" y1="241.4" x2="25" y2="306.2" stroke="#d6c28e" stroke-width="1"/>
<line x1="25" y1="306.2" x2="25" y2="314.3" stroke="#d6c28e" stroke-width="1" opacity="0.35"/>
<line x1="16" y1="311" x2="45.3" y2="311" stroke="#eab0c8" stroke-width="1" opacity="0.9"/>
<line x1="45.3" y1="311" x2="124.5" y2="311" stroke="#b6b8f4" stroke-width="1.2"/>
<line x1="45.3" y1="241.4" x2="45.3" y2="314.3" stroke="#c98a74" stroke-width="1.5"/>
<line x1="16" y1="306.2" x2="124.5" y2="306.2" stroke="#b87c84" stroke-width="1.3"/>
<circle cx="37.2" cy="286.4" r="0.9" fill="#182418"/>
<circle cx="42.6" cy="292" r="0.9" fill="#182418"/>
<circle cx="42.6" cy="296.9" r="0.9" fill="#182418"/>
<circle cx="40.5" cy="299.7" r="0.9" fill="#182418"/>
<circle cx="39.2" cy="302.7" r="0.9" fill="#182418"/>
<circle cx="38" cy="303.7" r="0.9" fill="#182418"/>
<circle cx="31.4" cy="303" r="0.9" fill="#182418"/>
<circle cx="33.2" cy="304.2" r="0.9" fill="#182418"/>
<circle cx="29.8" cy="306.4" r="0.9" fill="#182418"/>
<circle cx="41.7" cy="305.8" r="0.9" fill="#182418"/>
<circle cx="44.7" cy="299" r="0.9" fill="#182418"/>
<circle cx="45" cy="302.7" r="0.9" fill="#182418"/>
<circle cx="46.8" cy="292.4" r="0.9" fill="#182418"/>
<circle cx="48" cy="293.3" r="0.9" fill="#182418"/>
<circle cx="49.2" cy="291.8" r="0.9" fill="#182418"/>
<circle cx="48.3" cy="296" r="0.9" fill="#182418"/>
<circle cx="48.9" cy="301.5" r="0.9" fill="#182418"/>
<circle cx="49.5" cy="303" r="0.9" fill="#182418"/>
<circle cx="53.8" cy="296" r="0.9" fill="#182418"/>
<circle cx="70" cy="276" r="0.9" fill="#182418"/>
<circle cx="57" cy="292.8" r="0.9" fill="#182418"/>
<circle cx="54" cy="296" r="0.9" fill="#182418"/>
<circle cx="49" cy="291.6" r="0.9" fill="#182418"/>
<circle cx="47.3" cy="292.4" r="0.9" fill="#182418"/>
<circle cx="48.2" cy="294.2" r="0.9" fill="#182418"/>
<circle cx="48.7" cy="296" r="0.9" fill="#182418"/>
<circle cx="42.7" cy="291.8" r="0.9" fill="#182418"/>
<line x1="15.5" y1="241.4" x2="15.5" y2="314.8" stroke="#505050" stroke-width="1"/>
<line x1="15" y1="314.3" x2="124.5" y2="314.3" stroke="#505050" stroke-width="1"/>
<line x1="15.5" y1="314.3" x2="15.5" y2="315.8" stroke="#505050" stroke-width="0.8"/>
<text x="15.5" y="319.7" font-size="4.3" text-anchor="middle" fill="#2a2a2a" stroke="#2a2a2a" stroke-width="0.3" font-weight="bold">0</text>
<line x1="31" y1="314.3" x2="31" y2="315.8" stroke="#505050" stroke-width="0.8"/>
<text x="31" y="319.7" font-size="4.3" text-anchor="middle" fill="#2a2a2a" stroke="#2a2a2a" stroke-width="0.3" font-weight="bold">1</text>
<line x1="46.5" y1="314.3" x2="46.5" y2="315.8" stroke="#505050" stroke-width="0.8"/>
<text x="46.5" y="319.7" font-size="4.3" text-anchor="middle" fill="#2a2a2a" stroke="#2a2a2a" stroke-width="0.3" font-weight="bold">2</text>
<line x1="62" y1="314.3" x2="62" y2="315.8" stroke="#505050" stroke-width="0.8"/>
<text x="62" y="319.7" font-size="4.3" text-anchor="middle" fill="#2a2a2a" stroke="#2a2a2a" stroke-width="0.3" font-weight="bold">3</text>
<line x1="77.5" y1="314.3" x2="77.5" y2="315.8" stroke="#505050" stroke-width="0.8"/>
<text x="77.5" y="319.7" font-size="4.3" text-anchor="middle" fill="#2a2a2a" stroke="#2a2a2a" stroke-width="0.3" font-weight="bold">4</text>
<line x1="93" y1="314.3" x2="93" y2="315.8" stroke="#505050" stroke-width="0.8"/>
<text x="93" y="319.7" font-size="4.3" text-anchor="middle" fill="#2a2a2a" stroke="#2a2a2a" stroke-width="0.3" font-weight="bold">5</text>
<line x1="108.5" y1="314.3" x2="108.5" y2="315.8" stroke="#505050" stroke-width="0.8"/>
<text x="108.5" y="319.7" font-size="4.3" text-anchor="middle" fill="#2a2a2a" stroke="#2a2a2a" stroke-width="0.3" font-weight="bold">6</text>
<line x1="124" y1="314.3" x2="124" y2="315.8" stroke="#505050" stroke-width="0.8"/>
<text x="124" y="319.7" font-size="4.3" text-anchor="middle" fill="#2a2a2a" stroke="#2a2a2a" stroke-width="0.3" font-weight="bold">7</text>
<line x1="14" y1="314" x2="15.5" y2="314" stroke="#505050" stroke-width="0.8"/>
<text x="14.4" y="315.5" font-size="4.3" text-anchor="end" fill="#2a2a2a" stroke="#2a2a2a" stroke-width="0.3" font-weight="bold">0</text>
<line x1="14" y1="296.88" x2="15.5" y2="296.88" stroke="#505050" stroke-width="0.8"/>
<text x="14.4" y="298.38" font-size="4.3" text-anchor="end" fill="#2a2a2a" stroke="#2a2a2a" stroke-width="0.3" font-weight="bold">5</text>
<line x1="14" y1="279.75" x2="15.5" y2="279.75" stroke="#505050" stroke-width="0.8"/>
<text x="14.4" y="281.25" font-size="4.3" text-anchor="end" fill="#2a2a2a" stroke="#2a2a2a" stroke-width="0.3" font-weight="bold">10</text>
<line x1="14" y1="262.62" x2="15.5" y2="262.62" stroke="#505050" stroke-width="0.8"/>
<text x="14.4" y="264.12" font-size="4.3" text-anchor="end" fill="#2a2a2a" stroke="#2a2a2a" stroke-width="0.3" font-weight="bold">15</text>
<line x1="14" y1="245.5" x2="15.5" y2="245.5" stroke="#505050" stroke-width="0.8"/>
<text x="14.4" y="247" font-size="4.3" text-anchor="end" fill="#2a2a2a" stroke="#2a2a2a" stroke-width="0.3" font-weight="bold">20</text>
<text x="70" y="239" font-size="5" text-anchor="middle" fill="#1a1a1a" stroke="#1a1a1a" stroke-width="0.3" font-weight="bold">type 2M VWD</text>
<text x="70" y="329.3" font-size="5.0" text-anchor="middle" fill="#1a1a1a" stroke="#1a1a1a" stroke-width="0.3" font-weight="bold">FVIII:C/VWF:Ag ratio</text>
<text x="0" y="0" font-size="5.05" text-anchor="middle" fill="#1a1a1a" stroke="#1a1a1a" stroke-width="0.3" font-weight="bold" transform="translate(5.4,277) rotate(-90)">VWFpp/VWF:Ag ratio</text>
<rect x="150" y="241.8" width="28.9" height="64.6" fill="#f6fbc4"/>
<rect x="178.9" y="241.8" width="78.6" height="64.6" fill="#c8fbc8"/>
<rect x="150" y="306.4" width="28.9" height="7.9" fill="#fdf5f6"/>
<rect x="178.9" y="306.4" width="78.6" height="7.9" fill="#d0bcf0"/>
<rect x="159.3" y="241.8" width="2.5" height="64.6" fill="#fbfcd8"/>
<rect x="150" y="241.8" width="8.8" height="64.6" fill="#f8fcce"/>
<rect x="175.9" y="241.8" width="2.6" height="64.6" fill="#fcf4dc"/>
<line x1="158.8" y1="241.8" x2="158.8" y2="306.4" stroke="#d6c28e" stroke-width="1"/>
<line x1="158.8" y1="306.4" x2="158.8" y2="314.3" stroke="#d6c28e" stroke-width="1" opacity="0.35"/>
<line x1="150" y1="311" x2="178.9" y2="311" stroke="#eab0c8" stroke-width="1" opacity="0.9"/>
<line x1="178.9" y1="311" x2="257.5" y2="311" stroke="#b6b8f4" stroke-width="1.2"/>
<line x1="178.9" y1="241.8" x2="178.9" y2="314.3" stroke="#c98a74" stroke-width="1.5"/>
<line x1="150" y1="306.4" x2="257.5" y2="306.4" stroke="#b87c84" stroke-width="1.3"/>
<circle cx="158.8" cy="284.5" r="0.9" fill="#182418"/>
<circle cx="161.5" cy="297.8" r="0.9" fill="#182418"/>
<circle cx="166.2" cy="297" r="0.9" fill="#182418"/>
<circle cx="153.5" cy="299.6" r="0.9" fill="#182418"/>
<circle cx="156.2" cy="301" r="0.9" fill="#182418"/>
<circle cx="160.5" cy="303.6" r="0.9" fill="#182418"/>
<circle cx="166.2" cy="305.5" r="0.9" fill="#182418"/>
<circle cx="155.9" cy="305.8" r="0.9" fill="#182418"/>
<circle cx="158.3" cy="305.2" r="0.9" fill="#182418"/>
<circle cx="157.5" cy="306.6" r="0.9" fill="#182418"/>
<circle cx="152.7" cy="307.3" r="0.9" fill="#182418"/>
<circle cx="159" cy="306.8" r="0.9" fill="#182418"/>
<line x1="149.5" y1="241.8" x2="149.5" y2="314.8" stroke="#505050" stroke-width="1"/>
<line x1="149" y1="314.3" x2="257.5" y2="314.3" stroke="#505050" stroke-width="1"/>
<line x1="149.5" y1="314.3" x2="149.5" y2="315.8" stroke="#505050" stroke-width="0.8"/>
<text x="149.5" y="319.7" font-size="4.3" text-anchor="middle" fill="#2a2a2a" stroke="#2a2a2a" stroke-width="0.3" font-weight="bold">0</text>
<line x1="164.93" y1="314.3" x2="164.93" y2="315.8" stroke="#505050" stroke-width="0.8"/>
<text x="164.93" y="319.7" font-size="4.3" text-anchor="middle" fill="#2a2a2a" stroke="#2a2a2a" stroke-width="0.3" font-weight="bold">1</text>
<line x1="180.36" y1="314.3" x2="180.36" y2="315.8" stroke="#505050" stroke-width="0.8"/>
<text x="180.36" y="319.7" font-size="4.3" text-anchor="middle" fill="#2a2a2a" stroke="#2a2a2a" stroke-width="0.3" font-weight="bold">2</text>
<line x1="195.79" y1="314.3" x2="195.79" y2="315.8" stroke="#505050" stroke-width="0.8"/>
<text x="195.79" y="319.7" font-size="4.3" text-anchor="middle" fill="#2a2a2a" stroke="#2a2a2a" stroke-width="0.3" font-weight="bold">3</text>
<line x1="211.21" y1="314.3" x2="211.21" y2="315.8" stroke="#505050" stroke-width="0.8"/>
<text x="211.21" y="319.7" font-size="4.3" text-anchor="middle" fill="#2a2a2a" stroke="#2a2a2a" stroke-width="0.3" font-weight="bold">4</text>
<line x1="226.64" y1="314.3" x2="226.64" y2="315.8" stroke="#505050" stroke-width="0.8"/>
<text x="226.64" y="319.7" font-size="4.3" text-anchor="middle" fill="#2a2a2a" stroke="#2a2a2a" stroke-width="0.3" font-weight="bold">5</text>
<line x1="242.07" y1="314.3" x2="242.07" y2="315.8" stroke="#505050" stroke-width="0.8"/>
<text x="242.07" y="319.7" font-size="4.3" text-anchor="middle" fill="#2a2a2a" stroke="#2a2a2a" stroke-width="0.3" font-weight="bold">6</text>
<line x1="257.5" y1="314.3" x2="257.5" y2="315.8" stroke="#505050" stroke-width="0.8"/>
<text x="257.5" y="319.7" font-size="4.3" text-anchor="middle" fill="#2a2a2a" stroke="#2a2a2a" stroke-width="0.3" font-weight="bold">7</text>
<line x1="148" y1="314" x2="149.5" y2="314" stroke="#505050" stroke-width="0.8"/>
<text x="148.4" y="315.5" font-size="4.3" text-anchor="end" fill="#2a2a2a" stroke="#2a2a2a" stroke-width="0.3" font-weight="bold">0</text>
<line x1="148" y1="296.75" x2="149.5" y2="296.75" stroke="#505050" stroke-width="0.8"/>
<text x="148.4" y="298.25" font-size="4.3" text-anchor="end" fill="#2a2a2a" stroke="#2a2a2a" stroke-width="0.3" font-weight="bold">5</text>
<line x1="148" y1="279.5" x2="149.5" y2="279.5" stroke="#505050" stroke-width="0.8"/>
<text x="148.4" y="281" font-size="4.3" text-anchor="end" fill="#2a2a2a" stroke="#2a2a2a" stroke-width="0.3" font-weight="bold">10</text>
<line x1="148" y1="262.25" x2="149.5" y2="262.25" stroke="#505050" stroke-width="0.8"/>
<text x="148.4" y="263.75" font-size="4.3" text-anchor="end" fill="#2a2a2a" stroke="#2a2a2a" stroke-width="0.3" font-weight="bold">15</text>
<line x1="148" y1="245" x2="149.5" y2="245" stroke="#505050" stroke-width="0.8"/>
<text x="148.4" y="246.5" font-size="4.3" text-anchor="end" fill="#2a2a2a" stroke="#2a2a2a" stroke-width="0.3" font-weight="bold">20</text>
<text x="203.5" y="239" font-size="5" text-anchor="middle" fill="#1a1a1a" stroke="#1a1a1a" stroke-width="0.3" font-weight="bold">type 2N VWD</text>
<text x="203.5" y="329.3" font-size="5.0" text-anchor="middle" fill="#1a1a1a" stroke="#1a1a1a" stroke-width="0.3" font-weight="bold">FVIII:C/VWF:Ag ratio</text>
<text x="0" y="0" font-size="5.05" text-anchor="middle" fill="#1a1a1a" stroke="#1a1a1a" stroke-width="0.3" font-weight="bold" transform="translate(139.4,277.5) rotate(-90)">VWFpp/VWF:Ag ratio</text>
<text x="29.6" y="44.7" font-size="4.85" text-anchor="middle" fill="#30300f" stroke="#30300f" stroke-width="0.3" font-weight="bold">increased</text>
<text x="29.6" y="50.3" font-size="4.85" text-anchor="middle" fill="#30300f" stroke="#30300f" stroke-width="0.3" font-weight="bold">VWF</text>
<text x="29.6" y="56" font-size="4.85" text-anchor="middle" fill="#30300f" stroke="#30300f" stroke-width="0.3" font-weight="bold">clearance</text>
<text x="84.3" y="44" font-size="4.85" text-anchor="middle" fill="#1a2a1a" stroke="#1a2a1a" stroke-width="0.3" font-weight="bold">combination of</text>
<text x="84.3" y="49.7" font-size="4.85" text-anchor="middle" fill="#1a2a1a" stroke="#1a2a1a" stroke-width="0.3" font-weight="bold">increased clearance and</text>
<text x="84.3" y="55.7" font-size="4.85" text-anchor="middle" fill="#1a2a1a" stroke="#1a2a1a" stroke-width="0.3" font-weight="bold">reduced synthesis of VWF</text>
<text x="30" y="85.4" font-size="4.6" text-anchor="middle" fill="#302020" stroke="#302020" stroke-width="0.15" font-weight="bold">none</text>
<text x="84.3" y="85.4" font-size="4.85" text-anchor="middle" fill="#202040" stroke="#202040" stroke-width="0.3" font-weight="bold">reduced VWF synthesis</text>
<text x="268.5" y="8.9" font-size="11" text-anchor="start" fill="#000" stroke="#000" stroke-width="0.1" font-weight="bold">B</text>
<line x1="291.2" y1="20.3" x2="291.2" y2="162.5" stroke="#222" stroke-width="1"/>
<rect x="290.7" y="161.2" width="213" height="1.4" fill="#2a2a2a"/>
<line x1="289.4" y1="162" x2="291.2" y2="162" stroke="#222" stroke-width="0.8"/>
<line x1="289.4" y1="147.9" x2="291.2" y2="147.9" stroke="#222" stroke-width="0.8"/>
<text x="289.1" y="150.25" font-size="6.5" text-anchor="end" fill="#222" stroke="#222" stroke-width="0.35" font-weight="bold">10</text>
<line x1="289.4" y1="133.8" x2="291.2" y2="133.8" stroke="#222" stroke-width="0.8"/>
<text x="289.1" y="136.15" font-size="6.5" text-anchor="end" fill="#222" stroke="#222" stroke-width="0.35" font-weight="bold">20</text>
<line x1="289.4" y1="119.7" x2="291.2" y2="119.7" stroke="#222" stroke-width="0.8"/>
<text x="289.1" y="122.05" font-size="6.5" text-anchor="end" fill="#222" stroke="#222" stroke-width="0.35" font-weight="bold">30</text>
<line x1="289.4" y1="105.6" x2="291.2" y2="105.6" stroke="#222" stroke-width="0.8"/>
<text x="289.1" y="107.95" font-size="6.5" text-anchor="end" fill="#222" stroke="#222" stroke-width="0.35" font-weight="bold">40</text>
<line x1="289.4" y1="91.5" x2="291.2" y2="91.5" stroke="#222" stroke-width="0.8"/>
<text x="289.1" y="93.85" font-size="6.5" text-anchor="end" fill="#222" stroke="#222" stroke-width="0.35" font-weight="bold">50</text>
<line x1="289.4" y1="77.4" x2="291.2" y2="77.4" stroke="#222" stroke-width="0.8"/>
<text x="289.1" y="79.75" font-size="6.5" text-anchor="end" fill="#222" stroke="#222" stroke-width="0.35" font-weight="bold">60</text>
<line x1="289.4" y1="63.3" x2="291.2" y2="63.3" stroke="#222" stroke-width="0.8"/>
<text x="289.1" y="65.65" font-size="6.5" text-anchor="end" fill="#222" stroke="#222" stroke-width="0.35" font-weight="bold">70</text>
<line x1="289.4" y1="49.2" x2="291.2" y2="49.2" stroke="#222" stroke-width="0.8"/>
<text x="289.1" y="51.55" font-size="6.5" text-anchor="end" fill="#222" stroke="#222" stroke-width="0.35" font-weight="bold">80</text>
<line x1="289.4" y1="35.1" x2="291.2" y2="35.1" stroke="#222" stroke-width="0.8"/>
<text x="289.1" y="37.45" font-size="6.5" text-anchor="end" fill="#222" stroke="#222" stroke-width="0.35" font-weight="bold">90</text>
<line x1="289.4" y1="21" x2="291.2" y2="21" stroke="#222" stroke-width="0.8"/>
<text x="289.1" y="23.35" font-size="6.5" text-anchor="end" fill="#222" stroke="#222" stroke-width="0.35" font-weight="bold">100</text>
<text x="0" y="0" font-size="7.6" text-anchor="middle" fill="#222" stroke="#222" stroke-width="0.3" font-weight="bold" transform="translate(273.8,89) rotate(-90)">Frequency (%)</text>
<rect x="295.75" y="129.99" width="7.5" height="32.01" fill="#f4fcc0" stroke="#5e5e40" stroke-width="1.2"/>
<text x="299.5" y="166.9" font-size="3.9" text-anchor="middle" fill="#666" stroke="#666" stroke-width="0.25" font-weight="bold">80</text>
<rect x="304.48" y="137.04" width="7.5" height="24.96" fill="#bcbcf4" stroke="#545470" stroke-width="1.2"/>
<text x="308.23" y="166.9" font-size="3.9" text-anchor="middle" fill="#666" stroke="#666" stroke-width="0.25" font-weight="bold">87</text>
<rect x="313.21" y="129.99" width="7.5" height="32.01" fill="#c4fcc8" stroke="#4e644e" stroke-width="1.2"/>
<text x="316.96" y="166.9" font-size="3.9" text-anchor="middle" fill="#666" stroke="#666" stroke-width="0.25" font-weight="bold">86</text>
<rect x="321.94" y="111.66" width="7.5" height="50.34" fill="#ffffff" stroke="#505050" stroke-width="1.2"/>
<text x="325.69" y="166.9" font-size="3.9" text-anchor="middle" fill="#666" stroke="#666" stroke-width="0.25" font-weight="bold">136</text>
<text x="312.6" y="176" font-size="6.4" text-anchor="middle" fill="#111" stroke="#111" stroke-width="0.15" font-weight="bold">1</text>
<rect x="338.2" y="78.81" width="7.5" height="83.19" fill="#f4fcc0" stroke="#5e5e40" stroke-width="1.2"/>
<text x="341.95" y="166.9" font-size="3.9" text-anchor="middle" fill="#666" stroke="#666" stroke-width="0.25" font-weight="bold">60</text>
<rect x="346.93" y="157.77" width="7.5" height="4.23" fill="#bcbcf4" stroke="#545470" stroke-width="1.2"/>
<text x="350.68" y="166.9" font-size="3.9" text-anchor="middle" fill="#666" stroke="#666" stroke-width="0.25" font-weight="bold">5</text>
<rect x="355.66" y="116.88" width="7.5" height="45.12" fill="#c4fcc8" stroke="#4e644e" stroke-width="1.2"/>
<text x="359.41" y="166.9" font-size="3.9" text-anchor="middle" fill="#666" stroke="#666" stroke-width="0.25" font-weight="bold">50</text>
<rect x="364.39" y="153.54" width="7.5" height="8.46" fill="#ffffff" stroke="#505050" stroke-width="1.2"/>
<text x="368.14" y="166.9" font-size="3.9" text-anchor="middle" fill="#666" stroke="#666" stroke-width="0.25" font-weight="bold">10</text>
<text x="355.05" y="176" font-size="6.4" text-anchor="middle" fill="#111" stroke="#111" stroke-width="0.15" font-weight="bold">2A</text>
<rect x="380.65" y="28.05" width="7.5" height="133.95" fill="#f4fcc0" stroke="#5e5e40" stroke-width="1.2"/>
<text x="384.4" y="166.9" font-size="3.9" text-anchor="middle" fill="#666" stroke="#666" stroke-width="0.25" font-weight="bold">40</text>
<text x="393.13" y="160.8" font-size="4.6" text-anchor="middle" fill="#333" stroke="#333" stroke-width="0.2" font-weight="bold">x</text>
<text x="393.13" y="166.9" font-size="3.9" text-anchor="middle" fill="#666" stroke="#666" stroke-width="0.25" font-weight="bold">0</text>
<rect x="398.11" y="154.95" width="7.5" height="7.05" fill="#c4fcc8" stroke="#4e644e" stroke-width="1.2"/>
<text x="401.86" y="166.9" font-size="3.9" text-anchor="middle" fill="#666" stroke="#666" stroke-width="0.25" font-weight="bold">2</text>
<text x="410.59" y="160.8" font-size="4.6" text-anchor="middle" fill="#333" stroke="#333" stroke-width="0.2" font-weight="bold">x</text>
<text x="410.59" y="166.9" font-size="3.9" text-anchor="middle" fill="#666" stroke="#666" stroke-width="0.25" font-weight="bold">0</text>
<text x="397.5" y="176" font-size="6.4" text-anchor="middle" fill="#111" stroke="#111" stroke-width="0.15" font-weight="bold">2B</text>
<rect x="423.1" y="94.32" width="7.5" height="67.68" fill="#f4fcc0" stroke="#5e5e40" stroke-width="1.2"/>
<text x="426.85" y="166.9" font-size="3.9" text-anchor="middle" fill="#666" stroke="#666" stroke-width="0.25" font-weight="bold">13</text>
<text x="435.58" y="160.8" font-size="4.6" text-anchor="middle" fill="#333" stroke="#333" stroke-width="0.2" font-weight="bold">x</text>
<text x="435.58" y="166.9" font-size="3.9" text-anchor="middle" fill="#666" stroke="#666" stroke-width="0.25" font-weight="bold">0</text>
<rect x="440.56" y="98.55" width="7.5" height="63.45" fill="#c4fcc8" stroke="#4e644e" stroke-width="1.2"/>
<text x="444.31" y="166.9" font-size="3.9" text-anchor="middle" fill="#666" stroke="#666" stroke-width="0.25" font-weight="bold">12</text>
<rect x="449.29" y="152.13" width="7.5" height="9.87" fill="#ffffff" stroke="#505050" stroke-width="1.2"/>
<text x="453.04" y="166.9" font-size="3.9" text-anchor="middle" fill="#666" stroke="#666" stroke-width="0.25" font-weight="bold">2</text>
<text x="439.95" y="176" font-size="6.4" text-anchor="middle" fill="#111" stroke="#111" stroke-width="0.15" font-weight="bold">2M</text>
<rect x="465.55" y="61.89" width="7.5" height="100.11" fill="#f4fcc0" stroke="#5e5e40" stroke-width="1.2"/>
<text x="469.3" y="166.9" font-size="3.9" text-anchor="middle" fill="#666" stroke="#666" stroke-width="0.25" font-weight="bold">10</text>
<text x="478.03" y="160.8" font-size="4.6" text-anchor="middle" fill="#333" stroke="#333" stroke-width="0.2" font-weight="bold">x</text>
<text x="478.03" y="166.9" font-size="3.9" text-anchor="middle" fill="#666" stroke="#666" stroke-width="0.25" font-weight="bold">0</text>
<text x="486.76" y="160.8" font-size="4.6" text-anchor="middle" fill="#333" stroke="#333" stroke-width="0.2" font-weight="bold">x</text>
<text x="486.76" y="166.9" font-size="3.9" text-anchor="middle" fill="#666" stroke="#666" stroke-width="0.25" font-weight="bold">0</text>
<rect x="491.74" y="121.11" width="7.5" height="40.89" fill="#ffffff" stroke="#505050" stroke-width="1.2"/>
<text x="495.49" y="166.9" font-size="3.9" text-anchor="middle" fill="#666" stroke="#666" stroke-width="0.25" font-weight="bold">4</text>
<text x="482.4" y="176" font-size="6.4" text-anchor="middle" fill="#111" stroke="#111" stroke-width="0.15" font-weight="bold">2N</text>
<text x="290" y="166.9" font-size="3.9" text-anchor="middle" fill="#666" stroke="#666" stroke-width="0.25" font-weight="bold">n =</text>
<line x1="334.5" y1="17.8" x2="334.5" y2="168.5" stroke="#555" stroke-width="1" stroke-dasharray="1,1.65"/>
<line x1="376.5" y1="17.8" x2="376.5" y2="168.5" stroke="#555" stroke-width="1" stroke-dasharray="1,1.65"/>
<line x1="418.5" y1="17.8" x2="418.5" y2="168.5" stroke="#555" stroke-width="1" stroke-dasharray="1,1.65"/>
<line x1="461.5" y1="17.8" x2="461.5" y2="168.5" stroke="#555" stroke-width="1" stroke-dasharray="1,1.65"/>
<rect x="464.9" y="20.8" width="5.7" height="3.2" rx="0.3" fill="#f4fcc0" stroke="#5e5e40" stroke-width="1"/>
<text x="474.1" y="24.15" font-size="5" text-anchor="start" fill="#3a3a3a" stroke="#3a3a3a" stroke-width="0.08">increased clearance</text>
<rect x="464.9" y="26.95" width="5.7" height="3.2" rx="0.3" fill="#bcbcf4" stroke="#545470" stroke-width="1"/>
<text x="474.1" y="30.3" font-size="5" text-anchor="start" fill="#3a3a3a" stroke="#3a3a3a" stroke-width="0.08">reduced synthesis</text>
<rect x="464.9" y="33.1" width="5.7" height="3.2" rx="0.3" fill="#c4fcc8" stroke="#4e644e" stroke-width="1"/>
<text x="474.1" y="36.45" font-size="5" text-anchor="start" fill="#3a3a3a" stroke="#3a3a3a" stroke-width="0.08">combination</text>
<rect x="464.9" y="39.25" width="5.7" height="3.2" rx="0.3" fill="#ffffff" stroke="#505050" stroke-width="1"/>
<text x="474.1" y="42.6" font-size="5" text-anchor="start" fill="#3a3a3a" stroke="#3a3a3a" stroke-width="0.08">none</text>
</svg>
</body></html>
